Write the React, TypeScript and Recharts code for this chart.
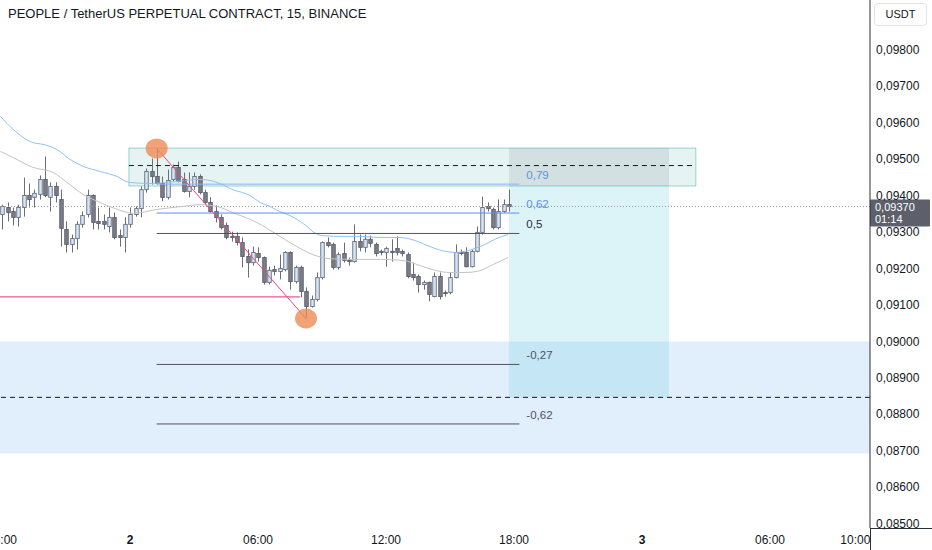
import React from 'react';
import {
  ComposedChart,
  Bar,
  Line,
  XAxis,
  YAxis,
  ReferenceLine,
  ReferenceArea,
  ReferenceDot,
} from 'recharts';

// ---------- DATA ----------
const barIndex = [
  -24, -23, -22, -21, -20, -19, -18, -17, -16, -15, -14, -13, -12, -11, -10, -9, -8, -7, -6, -5, -4, -3, -2, -1,
  0, 1, 2, 3, 4, 5, 6, 7, 8, 9, 10, 11, 12, 13, 14, 15, 16, 17, 18, 19, 20, 21, 22, 23,
  24, 25, 26, 27, 28, 29, 30, 31, 32, 33, 34, 35, 36, 37, 38, 39, 40, 41, 42, 43, 44, 45, 46, 47,
  48, 49, 50, 51, 52, 53, 54, 55, 56, 57, 58, 59, 60, 61, 62, 63, 64, 65, 66, 67, 68, 69, 70, 71,
];

const opens = [
  0.09348, 0.09367, 0.09356, 0.0934, 0.09367, 0.094, 0.09395, 0.09403, 0.09444, 0.09395, 0.09425, 0.09389,
  0.09307, 0.09266, 0.09282, 0.09321, 0.09348, 0.094, 0.09329, 0.09329, 0.09315, 0.0934, 0.0929, 0.09285,
  0.09321, 0.09348, 0.09364, 0.09416, 0.09466, 0.09452, 0.09433, 0.09395, 0.09444, 0.09477, 0.09444, 0.09411,
  0.09425, 0.09452, 0.09408, 0.09381, 0.09356, 0.0934, 0.09318, 0.09288, 0.09288, 0.09271, 0.09233, 0.09216,
  0.09241, 0.0923, 0.09162, 0.09197, 0.09192, 0.09197, 0.09244, 0.09164, 0.09203, 0.09137, 0.09096, 0.09115,
  0.09175, 0.09271, 0.09266, 0.09203, 0.09241, 0.09222, 0.09219, 0.09274, 0.09258, 0.0928, 0.09266, 0.09247,
  0.09244, 0.09247, 0.09255, 0.09247, 0.09238, 0.09184, 0.09178, 0.09156, 0.09162, 0.09123, 0.09178, 0.09134,
  0.09134, 0.09175, 0.09244, 0.09244, 0.09205, 0.09247, 0.09299, 0.0937, 0.09362, 0.09312, 0.09356, 0.09375,
];

const highs = [
  0.09375, 0.09381, 0.09367, 0.09375, 0.09449, 0.09433, 0.09416, 0.09455, 0.09507, 0.09436, 0.09436, 0.09416,
  0.09329, 0.09293, 0.09329, 0.09356, 0.09416, 0.09403, 0.09367, 0.09348, 0.09367, 0.09353, 0.09307, 0.0934,
  0.09367, 0.0937, 0.09425, 0.09474, 0.09501, 0.09529, 0.09452, 0.09471, 0.09485, 0.09493, 0.09463, 0.09463,
  0.09463, 0.09458, 0.09416, 0.09395, 0.09373, 0.09348, 0.09326, 0.09301, 0.09299, 0.09285, 0.09252, 0.0926,
  0.09258, 0.09233, 0.09205, 0.09208, 0.09238, 0.09247, 0.09247, 0.09208, 0.09208, 0.09148, 0.09126, 0.09189,
  0.09274, 0.09285, 0.09271, 0.09244, 0.09271, 0.0923, 0.09321, 0.09293, 0.09293, 0.0929, 0.09271, 0.09252,
  0.0926, 0.0928, 0.09288, 0.09252, 0.09244, 0.09216, 0.09184, 0.09167, 0.09164, 0.09189, 0.09189, 0.0914,
  0.09189, 0.09266, 0.09252, 0.09258, 0.09252, 0.09315, 0.09397, 0.09381, 0.09367, 0.09389, 0.09389, 0.09416,
];

const lows = [
  0.09307, 0.09329, 0.09318, 0.09315, 0.09342, 0.09367, 0.09367, 0.09389, 0.09395, 0.09356, 0.09381, 0.0926,
  0.09244, 0.09244, 0.09252, 0.09312, 0.0934, 0.09307, 0.09307, 0.09307, 0.09299, 0.0928, 0.0926, 0.09244,
  0.09312, 0.09342, 0.0934, 0.09408, 0.0943, 0.0943, 0.09384, 0.09389, 0.09438, 0.09436, 0.09408, 0.09395,
  0.09416, 0.09403, 0.09375, 0.09353, 0.09326, 0.09307, 0.0928, 0.09274, 0.09263, 0.09203, 0.09175, 0.09208,
  0.09219, 0.09156, 0.09156, 0.09181, 0.0917, 0.09192, 0.09142, 0.09159, 0.09121, 0.09063, 0.09093, 0.0911,
  0.0917, 0.09258, 0.09197, 0.09197, 0.09216, 0.09208, 0.09216, 0.09247, 0.09244, 0.09258, 0.09233, 0.09236,
  0.09205, 0.09219, 0.09236, 0.09233, 0.09173, 0.09167, 0.09134, 0.09142, 0.0911, 0.09121, 0.09115, 0.09123,
  0.09129, 0.09173, 0.09236, 0.09203, 0.09203, 0.09244, 0.09293, 0.09356, 0.09307, 0.09307, 0.09353, 0.09356,
];

const closes = [
  0.0937, 0.09353, 0.0934, 0.09367, 0.094, 0.09389, 0.09406, 0.09444, 0.094, 0.09425, 0.094, 0.0931,
  0.09266, 0.09282, 0.09321, 0.09345, 0.094, 0.09326, 0.09323, 0.09321, 0.0934, 0.09285, 0.09285, 0.09321,
  0.09348, 0.09364, 0.09416, 0.09466, 0.09452, 0.09433, 0.09395, 0.09441, 0.09477, 0.09438, 0.09411, 0.09425,
  0.09452, 0.09408, 0.09381, 0.09356, 0.0934, 0.09312, 0.09285, 0.09285, 0.09271, 0.09233, 0.09216, 0.09244,
  0.0923, 0.09162, 0.09195, 0.09192, 0.092, 0.09244, 0.09164, 0.09203, 0.09137, 0.09096, 0.09115, 0.09175,
  0.09271, 0.09263, 0.09203, 0.09238, 0.09222, 0.09219, 0.09274, 0.09258, 0.0928, 0.09269, 0.09241, 0.09244,
  0.09255, 0.09244, 0.09244, 0.09241, 0.09178, 0.09175, 0.09156, 0.09162, 0.09129, 0.09178, 0.09123, 0.09132,
  0.09175, 0.09244, 0.09241, 0.09205, 0.09247, 0.09299, 0.09367, 0.09364, 0.09312, 0.09356, 0.09375, 0.0937,
];

// moving averages (bar position, price)
const emaFastIndex = [
  -24.3, -21.9, -18.2, -16.3, -13.7, -11.25, -8.8, -5.6, -2.4, -0.2, 3.75, 8.4, 13.1, 15.9, 19.3, 22.5, 24.4,
  26.25, 28.1, 30, 31.9, 33.2, 34.3, 36, 39.4, 43.1, 46.9, 50.6, 53.4, 56.25, 59.1, 60.9, 62.8, 64.7, 66.6,
  68.4, 70.9,
];
const emaFastValues = [
  0.09617, 0.09581, 0.09545, 0.0954, 0.09526, 0.09499, 0.0948, 0.09466, 0.09452, 0.09436, 0.09433, 0.09438,
  0.09444, 0.09438, 0.09416, 0.094, 0.09381, 0.0937, 0.09356, 0.09345, 0.09329, 0.09315, 0.09301, 0.0929,
  0.09288, 0.09288, 0.09285, 0.09285, 0.09277, 0.0926, 0.09247, 0.09244, 0.09247, 0.09255, 0.09266, 0.0928,
  0.09293,
];
const emaSlowIndex = [
  -24.3, -21.9, -18.2, -14.4, -11.8, -8.8, -5.6, -2.4, 0.6, 5.1, 9.9, 13.1, 16.3, 19.3, 23.8, 28.1, 31.3, 34.3,
  37.5, 41.25, 46.9, 51.2, 54.4, 57.2, 60, 62.8, 65.1, 68.1, 70.9,
];
const emaSlowValues = [
  0.09521, 0.09504, 0.09477, 0.09463, 0.09436, 0.09403, 0.09381, 0.09362, 0.09351, 0.09362, 0.0937, 0.09375,
  0.0937, 0.09353, 0.09326, 0.09288, 0.0926, 0.09238, 0.09227, 0.09225, 0.09225, 0.09222, 0.09208, 0.09195,
  0.09189, 0.09189, 0.09192, 0.09211, 0.0923,
];

const xDomain = [-24.375, 138.75];
const yDomain = [0.0848904, 0.0993562];
const xTicks = [-24, 0, 24, 48, 72, 96, 120, 136];
const xTickLabels = ['18:00', '2', '06:00', '12:00', '18:00', '3', '06:00', '10:00'];
const xTickBold = [false, true, false, false, false, true, false, false];
const yTicks = [
  0.085, 0.086, 0.087, 0.088, 0.089, 0.09, 0.091, 0.092, 0.093, 0.094, 0.095, 0.096, 0.097, 0.098,
];

// drawings
const supplyZoneX = [-0.2, 106.1];
const supplyZonePrice = [0.09426, 0.0953];
const supplyZoneMid = 0.09482;
const demandZonePrice = [0.08693, 0.09];
const demandZoneMid = 0.08847;
const positionX = [71.06, 101.06];
const pinkLevel = 0.09122;
const pinkLevelEnd = 31.9;
const fibStartIndex = 5;
const fibEndIndex = 33;
const fibLineEnd = 73;
const fibLevels = [0.79, 0.62, 0.5, -0.27, -0.62];
const fibLabels = ['0,79', '0,62', '0,5', '-0,27', '-0,62'];
const fibColors = ['#5d8ff0', '#5d8ff0', '#2a2e39', '#50535e', '#50535e'];
const fibLineColors = ['#8fb3f2', '#5d8ff0', '#50535e', '#50535e', '#50535e'];
const lastPrice = 0.0937;
const lastPriceText = '0,09370';
const countdownText = '01:14';

const FONT = '"Liberation Sans", Arial, sans-serif';
const TEXT = '#131722';
const AXIS = '#2a2e39';
const X_LABEL_BASELINE = 544;

const candles = barIndex.map((i, k) => ({
  i,
  open: opens[k],
  high: highs[k],
  low: lows[k],
  close: closes[k],
}));
const emaFast = emaFastIndex.map((i, k) => ({ i, v: emaFastValues[k] }));
const emaSlow = emaSlowIndex.map((i, k) => ({ i, v: emaSlowValues[k] }));

const fibHigh = highs[barIndex.indexOf(fibStartIndex)];
const fibLow = lows[barIndex.indexOf(fibEndIndex)];

// ---------- SHAPES ----------
const Candle = (props: any) => {
  const { x, y, width, height, payload } = props;
  if (!payload) return null;
  const { open, close, high, low } = payload;
  const span = high - low;
  const k = span > 0 ? height / span : 0;
  const yO = y + (high - open) * k;
  const yC = y + (high - close) * k;
  const up = close >= open;
  const cx = Math.round(x + width / 2) + 0.5;
  const top = Math.min(yO, yC);
  const bh = Math.max(Math.abs(yO - yC), 1);
  return (
    <g>
      <line x1={cx} x2={cx} y1={y} y2={y + height} stroke="#6a6d78" strokeWidth={1} />
      <rect
        x={cx - 1.75}
        y={top}
        width={3.5}
        height={bh}
        fill={up ? '#d3e6fa' : '#7b7e88'}
        stroke={up ? '#6a6d78' : '#5d606b'}
        strokeWidth={0.9}
      />
    </g>
  );
};

const XTick = (props: any) => {
  const { x, payload } = props;
  const idx = xTicks.indexOf(payload.value);
  return (
    <text
      x={x}
      y={X_LABEL_BASELINE}
      textAnchor="middle"
      fontSize={12}
      fontFamily={FONT}
      fontWeight={xTickBold[idx] ? 700 : 400}
      fill={TEXT}
    >
      {xTickLabels[idx]}
    </text>
  );
};

const YTick = (props: any) => {
  const { x, y, payload } = props;
  return (
    <text x={x} y={y} dy={4} textAnchor="start" fontSize={12} fontFamily={FONT} fill={TEXT}>
      {payload.value.toFixed(5).replace('.', ',')}
    </text>
  );
};

const FibLabel = (props: any) => {
  const { viewBox, text, color } = props;
  if (!viewBox) return null;
  return (
    <text
      x={viewBox.x + viewBox.width + 7}
      y={viewBox.y - 9}
      dy={4}
      fontSize={11.5}
      fontFamily={FONT}
      fill={color}
    >
      {text}
    </text>
  );
};

const PriceTag = (props: any) => {
  const { viewBox } = props;
  if (!viewBox) return null;
  const x0 = viewBox.x + viewBox.width;
  const y0 = viewBox.y;
  return (
    <g>
      <rect x={x0} y={y0 - 7} width={60} height={27} rx={1} fill="#5d606b" />
      <text x={x0 + 5} y={y0 + 4.5} fontSize={11} fontFamily={FONT} fill="#ffffff">
        {lastPriceText}
      </text>
      <text x={x0 + 5} y={y0 + 17} fontSize={11} fontFamily={FONT} fill="#ffffff">
        {countdownText}
      </text>
    </g>
  );
};

const Marker = (props: any) => (
  <ellipse cx={props.cx} cy={props.cy} rx={11} ry={10} fill="#ef8b55" fillOpacity={0.8} />
);

// ---------- APP ----------
export default function App() {
  return (
    <div style={{ position: 'fixed', left: 0, top: 0, width: 932, height: 550, background: '#ffffff' }}>
      <ComposedChart
        width={932}
        height={550}
        data={candles}
        margin={{ top: 0, right: 0, bottom: 0, left: 0 }}
      >
        <XAxis
          xAxisId="main"
          dataKey="i"
          type="number"
          domain={xDomain}
          allowDataOverflow
          ticks={xTicks}
          tick={<XTick />}
          tickLine={false}
          tickSize={0}
          tickMargin={5}
          height={22}
          axisLine={{ stroke: AXIS }}
          interval={0}
        />
        <XAxis xAxisId="ema" dataKey="i" type="number" domain={xDomain} allowDataOverflow hide />
        <YAxis
          orientation="right"
          type="number"
          domain={yDomain}
          allowDataOverflow
          ticks={yTicks}
          tick={<YTick />}
          tickLine={false}
          tickSize={0}
          tickMargin={6}
          width={62}
          axisLine={{ stroke: AXIS }}
          interval={0}
        />

        {/* demand zone */}
        <ReferenceArea
          xAxisId="main"
          y1={demandZonePrice[0]}
          y2={demandZonePrice[1]}
          fill="#e1eefc"
          fillOpacity={1}
          stroke="none"
        />
        <ReferenceLine
          xAxisId="main"
          y={demandZoneMid}
          stroke="#131722"
          strokeDasharray="5 4"
          strokeWidth={1}
        />
        {/* position tool */}
        <ReferenceArea
          xAxisId="main"
          x1={positionX[0]}
          x2={positionX[1]}
          y1={demandZoneMid}
          y2={supplyZonePrice[0]}
          fill="rgb(105,208,225)"
          fillOpacity={0.233}
          stroke="none"
        />
        {/* last price line */}
        <ReferenceLine
          xAxisId="main"
          y={lastPrice}
          stroke="#9598a1"
          strokeDasharray="1 2"
          label={<PriceTag />}
        />
        {/* pink level */}
        <ReferenceLine
          xAxisId="main"
          segment={[
            { x: xDomain[0], y: pinkLevel },
            { x: pinkLevelEnd, y: pinkLevel },
          ]}
          stroke="#f0588a"
          strokeWidth={1.2}
        />

        <Line
          xAxisId="ema"
          data={emaSlow}
          dataKey="v"
          type="monotone"
          stroke="#c4c4c4"
          strokeWidth={1}
          dot={false}
          activeDot={false}
          isAnimationActive={false}
        />
        <Line
          xAxisId="ema"
          data={emaFast}
          dataKey="v"
          type="monotone"
          stroke="#90c2f2"
          strokeWidth={1}
          dot={false}
          activeDot={false}
          isAnimationActive={false}
        />

        <Bar
          xAxisId="main"
          dataKey={(d: any) => [d.low, d.high]}
          shape={<Candle />}
          barSize={4}
          isAnimationActive={false}
        />

        {/* supply zone */}
        <ReferenceArea
          xAxisId="main"
          x1={supplyZoneX[0]}
          x2={supplyZoneX[1]}
          y1={supplyZonePrice[0]}
          y2={supplyZonePrice[1]}
          fill="rgb(38,166,154)"
          fillOpacity={0.12}
          stroke="#26a69a"
          strokeOpacity={0.45}
        />
        <ReferenceArea
          xAxisId="main"
          x1={positionX[0]}
          x2={positionX[1]}
          y1={supplyZonePrice[0]}
          y2={supplyZonePrice[1]}
          fill="rgb(120,123,134)"
          fillOpacity={0.17}
          stroke="none"
        />
        <ReferenceLine
          xAxisId="main"
          segment={[
            { x: supplyZoneX[0], y: supplyZoneMid },
            { x: supplyZoneX[1], y: supplyZoneMid },
          ]}
          stroke="#131722"
          strokeDasharray="5 4"
        />

        {/* fib levels */}
        {fibLevels.map((lv, k) => (
          <ReferenceLine
            key={lv}
            xAxisId="main"
            segment={[
              { x: fibStartIndex, y: fibLow + lv * (fibHigh - fibLow) },
              { x: fibLineEnd, y: fibLow + lv * (fibHigh - fibLow) },
            ]}
            stroke={fibLineColors[k]}
            strokeWidth={1}
            label={<FibLabel text={fibLabels[k]} color={fibColors[k]} />}
          />
        ))}

        {/* trend line */}
        <ReferenceLine
          xAxisId="main"
          segment={[
            { x: fibStartIndex, y: fibHigh },
            { x: fibEndIndex, y: fibLow },
          ]}
          stroke="#f0457a"
          strokeWidth={1}
        />
        <ReferenceDot xAxisId="main" x={fibStartIndex} y={fibHigh} r={10} shape={<Marker />} />
        <ReferenceDot xAxisId="main" x={fibEndIndex} y={fibLow} r={10} shape={<Marker />} />
      </ComposedChart>

      {/* price-scale decorations */}
      <div style={{ position: 'absolute', left: 870, top: 528, width: 62, height: 1, background: AXIS }} />
      <div style={{ position: 'absolute', left: 870, top: 528, width: 1, height: 22, background: AXIS }} />
      <div
        style={{
          position: 'absolute',
          left: 874,
          top: 3,
          width: 51,
          height: 21,
          border: '1px solid #e0e3eb',
          borderRadius: 4,
          fontFamily: FONT,
          fontSize: 11,
          color: TEXT,
          lineHeight: '21px',
          textAlign: 'center',
          background: '#ffffff',
        }}
      >
        USDT
      </div>
      <div
        style={{
          position: 'absolute',
          left: 8,
          top: 6,
          fontFamily: FONT,
          fontSize: 13,
          color: TEXT,
          whiteSpace: 'nowrap',
          lineHeight: '16px',
        }}
      >
        PEOPLE / TetherUS PERPETUAL CONTRACT, 15, BINANCE
      </div>
    </div>
  );
}
